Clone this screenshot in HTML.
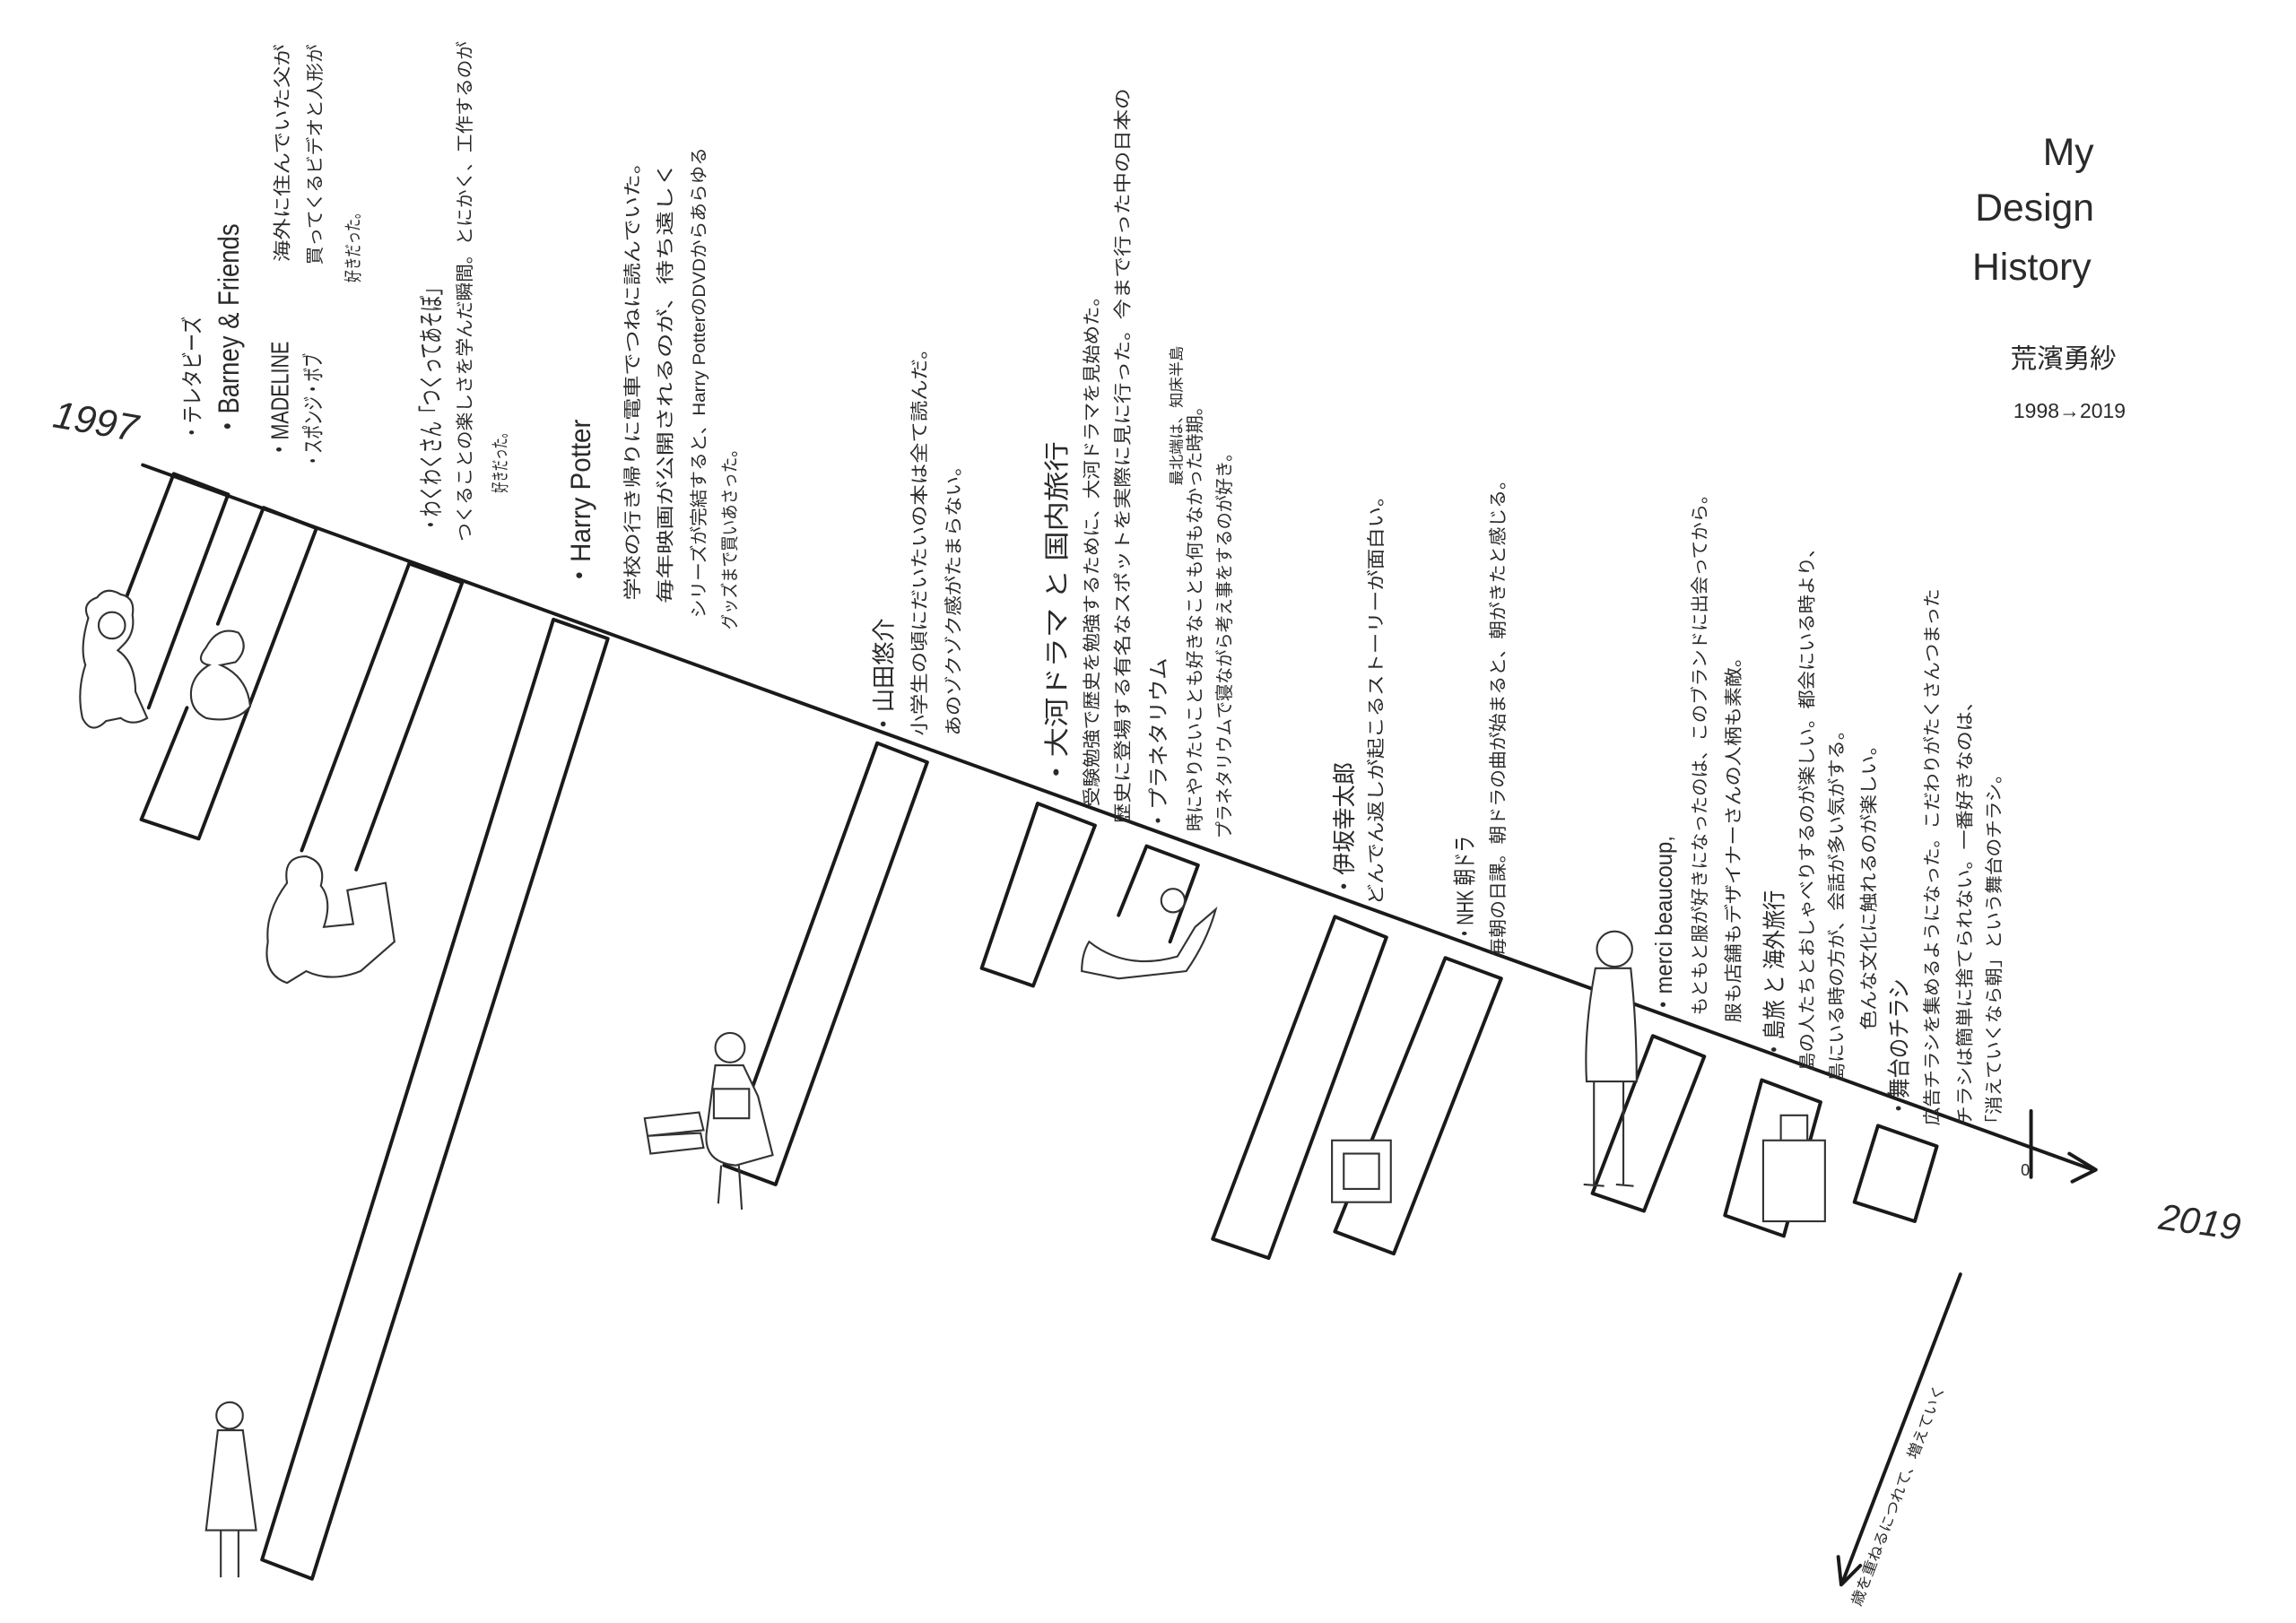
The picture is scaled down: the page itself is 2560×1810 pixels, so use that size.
<!DOCTYPE html>
<html><head><meta charset="utf-8"><style>
html,body{margin:0;padding:0;background:#fff;}
svg{display:block}
text{font-family:"Liberation Sans","Noto Sans CJK JP",sans-serif;fill:#2a2a2a}
</style></head><body>
<svg width="2560" height="1810" viewBox="0 0 1560 1103" xmlns="http://www.w3.org/2000/svg">
<rect width="1560" height="1103" fill="#fff"/>
<g stroke="#1a1a1a" stroke-width="2.4" fill="none" stroke-linejoin="round" stroke-linecap="round">
<!-- main axis -->
<line x1="97" y1="316" x2="1422" y2="795"/>
<polyline points="1406,784 1424,795 1408,803"/>
<line x1="1380" y1="755" x2="1380" y2="800"/>
<!-- second arrow -->
<line x1="1332" y1="866" x2="1252" y2="1075"/>
<polyline points="1249,1058 1251,1077 1264,1064"/>
<!-- bars -->
<polyline points="82,416 118,322 155,336 101,481"/>
<polyline points="148,424 179,345 215,359 135,570 96,557 127,481"/>
<polyline points="205,578 278,383 314,396 242,591"/>
<polygon points="376,421 413,434 212,1073 178,1060"/>
<polygon points="596,505 630,518 527,805 492,792"/>
<polygon points="705,546 744,561 702,670 667,658"/>
<polyline points="760,622 779,575 814,588 795,640"/>
<polygon points="907,623 942,637 862,855 824,842"/>
<polygon points="982,651 1020,665 947,852 907,837"/>
<polygon points="1123,704 1158,718 1117,823 1082,811"/>
<polygon points="1197,734 1237,749 1212,840 1172,826"/>
<polygon points="1276,765 1316,779 1301,830 1260,817"/>
</g>
<!-- figures -->
<g stroke="#333" stroke-width="1.3" fill="#fff">
<path d="M60,420 Q55,410 66,406 Q72,398 82,404 Q92,406 90,418 Q92,430 84,438 L80,442 Q92,450 92,470 L100,488 Q90,494 82,488 L72,490 Q62,500 56,488 Q52,470 58,452 Q54,440 60,420 Z"/>
<circle cx="76" cy="425" r="9" fill="none"/>
<path d="M140,440 Q148,425 162,430 Q170,440 160,450 L150,452 Q168,460 170,480 Q160,492 140,488 Q128,482 130,468 Q132,458 142,452 Q132,450 140,440 Z"/>
<path d="M195,600 Q192,582 208,582 Q222,586 218,602 Q226,612 220,630 L240,628 L236,605 L262,600 L268,640 L245,660 Q225,668 208,660 L195,668 Q178,662 182,640 Q180,620 195,600 Z"/>
<circle cx="496" cy="712" r="10"/>
<path d="M486,724 L480,770 Q478,790 500,792 L525,785 L515,745 L505,724 Z"/>
<rect x="485" y="740" width="24" height="20"/>
<path d="M490,792 L488,818 M502,792 L504,822" fill="none"/>
<path d="M438,760 L475,756 L478,768 L440,772 Z M440,772 L476,770 L478,780 L442,784 Z"/>
<circle cx="797" cy="612" r="8"/>
<path d="M740,640 Q765,660 800,650 L812,630 L826,618 Q820,640 806,660 L760,665 L735,660 Q735,648 740,640 Z"/>
<circle cx="156" cy="962" r="9"/>
<path d="M148,972 L140,1040 L174,1040 L165,972 Z"/>
<path d="M150,1040 L150,1072 M162,1040 L162,1072" fill="none"/>
<rect x="905" y="775" width="40" height="42"/><rect x="913" y="784" width="24" height="24"/>
<circle cx="1097" cy="645" r="12"/>
<path d="M1084,658 Q1076,700 1078,735 L1112,735 Q1112,695 1108,658 Z"/>
<path d="M1083,735 L1083,805 M1103,735 L1103,805 M1076,805 L1090,806 M1098,805 L1110,806" fill="none"/>
<rect x="1198" y="775" width="42" height="55"/><path d="M1210,775 L1210,758 L1228,758 L1228,775" fill="none"/>
</g>
<!-- year labels -->
<text x="35" y="290" font-size="26" font-style="italic" transform="rotate(10 35 290)">1997</text>
<text x="1466" y="835" font-size="25" font-style="italic" transform="rotate(8 1466 835)">2019</text>
<text x="1373" y="799" font-size="11">0</text>
<!-- title -->
<text x="1388" y="112" font-size="26">My</text>
<text x="1342" y="150" font-size="26">Design</text>
<text x="1340" y="190" font-size="26">History</text>
<text x="1366" y="250" font-size="18">荒濱勇紗</text>
<text x="1368" y="284" font-size="14">1998→2019</text>
<!-- vertical labels: translate(baselineX, bottomY) rotate(-90) -->
<g font-size="12" lengthAdjust="spacingAndGlyphs">
<text transform="translate(136,300) rotate(-90)" font-size="15" textLength="85" lengthAdjust="spacingAndGlyphs">・テレタビーズ</text>
<text transform="translate(162,298) rotate(-90)" font-size="20" textLength="146" lengthAdjust="spacingAndGlyphs">・Barney &amp; Friends</text>
<text transform="translate(196,312) rotate(-90)" font-size="17" textLength="80" lengthAdjust="spacingAndGlyphs">・MADELINE</text>
<text transform="translate(218,318) rotate(-90)" font-size="15" textLength="78" lengthAdjust="spacingAndGlyphs">・スポンジ・ボブ</text>
<text transform="translate(196,178) rotate(-90)" textLength="148" lengthAdjust="spacingAndGlyphs">海外に住んでいた父が</text>
<text transform="translate(218,180) rotate(-90)" textLength="150" lengthAdjust="spacingAndGlyphs">買ってくるビデオと人形が</text>
<text transform="translate(244,192) rotate(-90)" textLength="52" lengthAdjust="spacingAndGlyphs">好きだった。</text>
<text transform="translate(299,362) rotate(-90)" font-size="17" textLength="172" lengthAdjust="spacingAndGlyphs">・わくわくさん「つくってあそぼ」</text>
<text transform="translate(320,368) rotate(-90)" textLength="340" lengthAdjust="spacingAndGlyphs">つくることの楽しさを学んだ瞬間。とにかく、工作するのが</text>
<text transform="translate(344,335) rotate(-90)" textLength="45" lengthAdjust="spacingAndGlyphs">好きだった。</text>
<text transform="translate(401,400) rotate(-90)" font-size="19" textLength="115" lengthAdjust="spacingAndGlyphs">・Harry Potter</text>
<text transform="translate(434,408) rotate(-90)" textLength="305" lengthAdjust="spacingAndGlyphs">学校の行き帰りに電車でつねに読んでいた。</text>
<text transform="translate(456,410) rotate(-90)" textLength="300" lengthAdjust="spacingAndGlyphs">毎年映画が公開されるのが、待ち遠しく</text>
<text transform="translate(479,420) rotate(-90)" textLength="320" lengthAdjust="spacingAndGlyphs">シリーズが完結すると、Harry PotterのDVDからあらゆる</text>
<text transform="translate(500,428) rotate(-90)" textLength="128" lengthAdjust="spacingAndGlyphs">グッズまで買いあさった。</text>
<text transform="translate(606,500) rotate(-90)" font-size="16" textLength="80" lengthAdjust="spacingAndGlyphs">・山田悠介</text>
<text transform="translate(629,500) rotate(-90)" textLength="270" lengthAdjust="spacingAndGlyphs">小学生の頃にだいたいの本は全て読んだ。</text>
<text transform="translate(652,500) rotate(-90)" textLength="190" lengthAdjust="spacingAndGlyphs">あのゾクゾク感がたまらない。</text>
<text transform="translate(724,535) rotate(-90)" font-size="17" textLength="235" lengthAdjust="spacingAndGlyphs">・大河ドラマ と 国内旅行</text>
<text transform="translate(746,548) rotate(-90)" textLength="353" lengthAdjust="spacingAndGlyphs">受験勉強で歴史を勉強するために、大河ドラマを見始めた。</text>
<text transform="translate(767,560) rotate(-90)" textLength="500" lengthAdjust="spacingAndGlyphs">歴史に登場する有名なスポットを実際に見に行った。今まで行った中の日本の</text>
<text transform="translate(792,565) rotate(-90)" font-size="14" textLength="118" lengthAdjust="spacingAndGlyphs">・プラネタリウム</text>
<text transform="translate(803,330) rotate(-90)" font-size="10" textLength="95" lengthAdjust="spacingAndGlyphs">最北端は、知床半島</text>
<text transform="translate(816,565) rotate(-90)" textLength="295" lengthAdjust="spacingAndGlyphs">時にやりたいことも好きなことも何もなかった時期。</text>
<text transform="translate(836,570) rotate(-90)" textLength="268" lengthAdjust="spacingAndGlyphs">プラネタリウムで寝ながら考え事をするのが好き。</text>
<text transform="translate(919,610) rotate(-90)" font-size="16" textLength="92" lengthAdjust="spacingAndGlyphs">・伊坂幸太郎</text>
<text transform="translate(939,615) rotate(-90)" textLength="285" lengthAdjust="spacingAndGlyphs">どんでん返しが起こるストーリーが面白い。</text>
<text transform="translate(1001,640) rotate(-90)" font-size="16" textLength="72" lengthAdjust="spacingAndGlyphs">・NHK 朝ドラ</text>
<text transform="translate(1022,650) rotate(-90)" textLength="330" lengthAdjust="spacingAndGlyphs">毎朝の日課。朝ドラの曲が始まると、朝がきたと感じる。</text>
<text transform="translate(1136,690) rotate(-90)" font-size="16" textLength="122" lengthAdjust="spacingAndGlyphs">・merci beaucoup,</text>
<text transform="translate(1159,690) rotate(-90)" textLength="360" lengthAdjust="spacingAndGlyphs">もともと服が好きになったのは、このブランドに出会ってから。</text>
<text transform="translate(1182,695) rotate(-90)" textLength="255" lengthAdjust="spacingAndGlyphs">服も店舗もデザイナーさんの人柄も素敵。</text>
<text transform="translate(1211,720) rotate(-90)" font-size="16" textLength="115" lengthAdjust="spacingAndGlyphs">・島旅 と 海外旅行</text>
<text transform="translate(1232,728) rotate(-90)" textLength="362" lengthAdjust="spacingAndGlyphs">島の人たちとおしゃべりするのが楽しい。都会にいる時より、</text>
<text transform="translate(1252,735) rotate(-90)" textLength="245" lengthAdjust="spacingAndGlyphs">島にいる時の方が、会話が多い気がする。</text>
<text transform="translate(1274,700) rotate(-90)" textLength="200" lengthAdjust="spacingAndGlyphs">色んな文化に触れるのが楽しい。</text>
<text transform="translate(1296,760) rotate(-90)" font-size="16" textLength="95" lengthAdjust="spacingAndGlyphs">・舞台のチラシ</text>
<text transform="translate(1317,765) rotate(-90)" textLength="365" lengthAdjust="spacingAndGlyphs">広告チラシを集めるようになった。こだわりがたくさんつまった</text>
<text transform="translate(1339,765) rotate(-90)" textLength="295" lengthAdjust="spacingAndGlyphs">チラシは簡単に捨てられない。一番好きなのは、</text>
<text transform="translate(1359,770) rotate(-90)" textLength="250" lengthAdjust="spacingAndGlyphs">「消えていくなら朝」という舞台のチラシ。</text>
<text transform="translate(1264,1092) rotate(-69)" font-size="10" textLength="160" lengthAdjust="spacingAndGlyphs">歳を重ねるにつれて、増えていく</text>
</g>
</svg>
</body></html>
